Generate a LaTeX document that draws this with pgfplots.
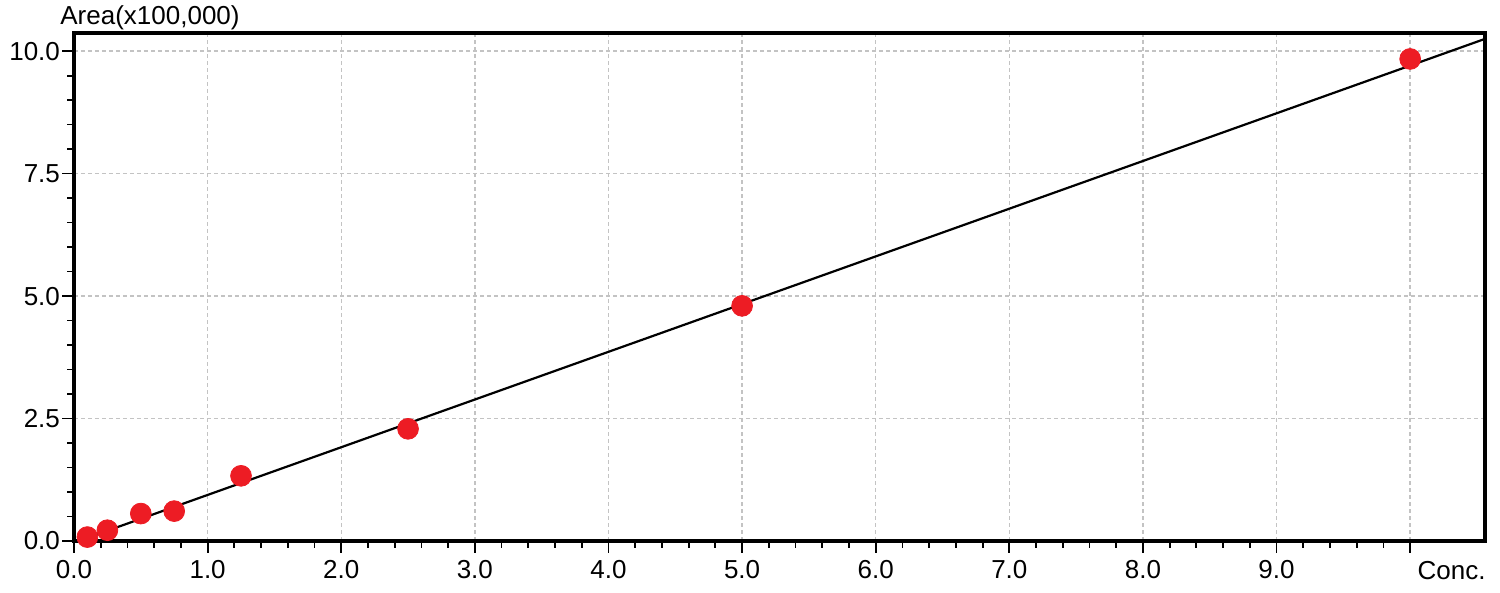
\documentclass[border=0pt]{standalone}
\usepackage{fontspec}
\setmainfont{Liberation Sans}
\usepackage{pgfplots}
\pgfplotsset{compat=1.18}
\definecolor{ptred}{RGB}{237,28,36}
\definecolor{gridgray}{RGB}{195,195,195}
\begin{document}
\begin{tikzpicture}
\begin{axis}[
  at={(0,0)}, anchor=origin,
  scale only axis,
  width=705.5pt, height=254pt,
  xmin=0, xmax=10.56, ymin=0, ymax=10.37,
  axis line style={line width=1.6pt},
  xtick={0,1,2,3,4,5,6,7,8,9,10},
  xticklabels={0.0,1.0,2.0,3.0,4.0,5.0,6.0,7.0,8.0,9.0,{}},
  minor x tick num=4,
  ytick={0,2.5,5,7.5,10},
  yticklabels={0.0,2.5,5.0,7.5,10.0},
  minor y tick num=4,
  tick align=outside,
  xtick pos=bottom, ytick pos=left,
  major tick length=6pt, minor tick length=3.5pt,
  every tick/.style={black, line width=0.9pt},
  grid=major,
  major grid style={gridgray, dash pattern=on 2.2pt off 1.3pt, line width=0.7pt},
  tick label style={font=\fontsize{13}{15}\selectfont},
  yticklabel style={xshift=2.5pt},
  /pgf/number format/assume math mode=true,
  clip=false,
]
\addplot[black, line width=1.1pt] coordinates {(0.05,0.015) (10.56,10.25)};
\addplot[only marks, mark=*, mark size=5.2pt, mark options={fill=ptred, draw=ptred}] coordinates {
  (0.1,0.08) (0.25,0.22) (0.5,0.56) (0.75,0.61) (1.25,1.33) (2.5,2.29) (5.0,4.80) (10.0,9.84)
};
\node[anchor=north west, inner sep=0pt, font=\fontsize{13}{15}\selectfont] at (axis cs:10,0) [yshift=-10pt, xshift=3.5pt] {Conc.};
\node[anchor=south west, inner sep=0pt, font=\fontsize{13}{15}\selectfont] at (rel axis cs:0,1) [xshift=-7pt, yshift=1.5pt] {Area(x100,000)};
\end{axis}
\path[use as bounding box] (-37pt,-26pt) rectangle (713pt,270.5pt);
\end{tikzpicture}
\end{document}
